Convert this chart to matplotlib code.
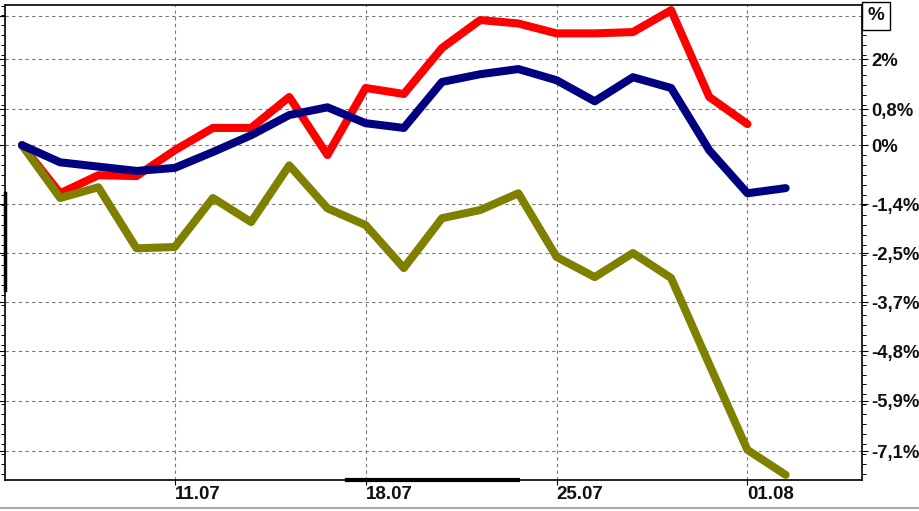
import matplotlib
matplotlib.use("Agg")
import matplotlib.pyplot as plt
from matplotlib.ticker import FixedLocator, MultipleLocator

plt.rcParams['font.family'] = ['Liberation Sans', 'DejaVu Sans']

# trading-day index (0 = 05.07)
days = list(range(21))
red_vals = [0.0, -1.12, -0.70, -0.72, -0.12, 0.40, 0.40, 1.12, -0.23, 1.33, 1.19,
            2.26, 2.91, 2.83, 2.60, 2.60, 2.63, 3.14, 1.12, 0.49]
blue_vals = [0.0, -0.40, -0.50, -0.60, -0.53, -0.16, 0.23, 0.70, 0.88, 0.51, 0.40,
             1.47, 1.65, 1.77, 1.51, 1.02, 1.58, 1.33, -0.12, -1.12, -1.00]
olive_vals = [0.0, -1.23, -0.98, -2.40, -2.37, -1.23, -1.79, -0.47, -1.47, -1.86, -2.86,
              -1.70, -1.51, -1.12, -2.60, -3.07, -2.51, -3.09, -5.1, -7.09, -7.67]

x_tick_pos = [4, 9, 14, 19]
x_tick_labels = ["11.07", "18.07", "25.07", "01.08"]
y_tick_pos = [3.0, 2.0, 0.84, 0.0, -1.37, -2.51, -3.65, -4.79, -5.95, -7.12]
y_tick_labels = ["", "2%", "0,8%", "0%", "-1,4%", "-2,5%", "-3,7%", "-4,8%", "-5,9%", "-7,1%"]

W, H = 920, 511
fig = plt.figure(figsize=(W / 100, H / 100), dpi=100)
ax = fig.add_axes([5 / W, (H - 480) / H, (862 - 5) / W, (480 - 5) / H])

lw = 5.8
ax.plot(days[:len(red_vals)], red_vals, color='#ff0000', lw=lw, solid_capstyle='round', solid_joinstyle='round', zorder=3)
ax.plot(days[:len(blue_vals)], blue_vals, color='#000080', lw=lw, solid_capstyle='round', solid_joinstyle='round', zorder=4)
ax.plot(days[:len(olive_vals)], olive_vals, color='#808000', lw=lw, solid_capstyle='round', solid_joinstyle='round', zorder=3)

ax.set_xlim(-0.445, 22.0)
ax.set_ylim(-7.79, 3.26)

ax.xaxis.set_major_locator(FixedLocator(x_tick_pos))
ax.set_xticklabels(x_tick_labels)
for lab in ax.get_xticklabels():
    lab.set_horizontalalignment('left')
    lab.set_fontweight('bold')
    lab.set_fontsize(13.5)
    lab.set_color('#111111')

ax.yaxis.tick_right()
ax.yaxis.set_ticks_position('both')
ax.yaxis.set_major_locator(FixedLocator(y_tick_pos))
ax.set_yticklabels(y_tick_labels)
ax.yaxis.set_minor_locator(MultipleLocator(0.232))
for lab in ax.get_yticklabels():
    lab.set_horizontalalignment('left')
    lab.set_fontweight('bold')
    lab.set_fontsize(13.3)
    lab.set_color('#111111')

ax.tick_params(axis='y', which='major', direction='out', length=4.5, width=0.8, pad=2,
               left=True, right=True, labelleft=False, labelright=True)
ax.tick_params(axis='y', which='minor', direction='out', length=3, width=0.7, left=True, right=True)
ax.tick_params(axis='x', which='major', direction='out', length=3.5, width=0.8, pad=0.5)

ax.grid(True, which='major', color='#777777', linestyle=(0, (3, 3)), linewidth=0.8)

for s in ax.spines.values():
    s.set_color('black')
    s.set_linewidth(1.2)

# "%" unit label box at top right
fig.text(876 / W, 1 - 16 / H, "%", ha='center', va='center', fontsize=13.5, fontweight='bold',
         color='#111111',
         bbox=dict(boxstyle='square,pad=0.3', facecolor='white', edgecolor='black', linewidth=1.0))

# scroll indicator segments
fig.add_artist(plt.Line2D([347 / W, 518 / W], [1 - 480 / H, 1 - 480 / H], color='black', lw=3, transform=fig.transFigure))
fig.add_artist(plt.Line2D([4.5 / W, 4.5 / W], [1 - 193 / H, 1 - 290 / H], color='black', lw=2.5, transform=fig.transFigure))
fig.add_artist(plt.Line2D([0, 1], [1 - 508 / H, 1 - 508 / H], color='#aaaaaa', lw=1.5, transform=fig.transFigure))

fig.savefig("out.png", dpi=100)
